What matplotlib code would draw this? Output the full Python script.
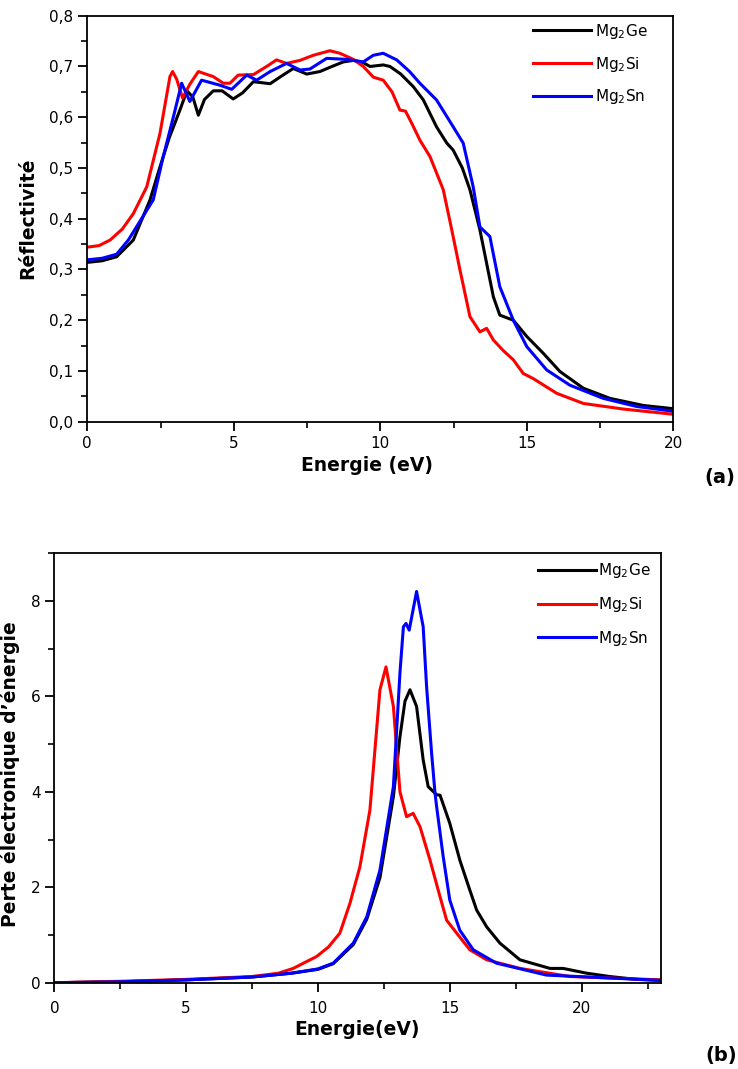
import matplotlib
matplotlib.use('Agg')
import matplotlib.pyplot as plt
from matplotlib.ticker import MultipleLocator, FuncFormatter

plt.rcParams['font.family'] = ['DejaVu Sans']
plt.rcParams['mathtext.fontset'] = 'dejavusans'

labels = ['Mg$_\\mathregular{2}$Ge', 'Mg$_\\mathregular{2}$Si', 'Mg$_\\mathregular{2}$Sn']
colors = ['#000000', '#ff0000', '#0000ff']

# (a) réflectivité R(E)
ge_r_x = [0, 0.5, 1.0, 1.57, 2.14, 2.48, 2.8, 3.16, 3.4, 3.6, 3.79, 4.0, 4.3, 4.6, 4.98, 5.3,
          5.67, 6.24, 6.6, 7.03, 7.49, 7.94, 8.35, 8.74, 9.08, 9.4, 9.65, 10.1, 10.33, 10.7,
          11.13, 11.47, 11.92, 12.27, 12.49, 12.8, 13.06, 13.4, 13.63, 13.86, 14.08, 14.54,
          15.0, 15.56, 16.13, 16.93, 17.84, 18.98, 19.95, 20]
ge_r_y = [0.314, 0.317, 0.325, 0.358, 0.437, 0.502, 0.56, 0.614, 0.652, 0.64, 0.604, 0.635,
          0.652, 0.652, 0.636, 0.648, 0.670, 0.666, 0.680, 0.696, 0.685, 0.690, 0.700, 0.709,
          0.712, 0.708, 0.700, 0.703, 0.700, 0.685, 0.660, 0.634, 0.581, 0.549, 0.535, 0.500,
          0.457, 0.378, 0.312, 0.246, 0.210, 0.200, 0.168, 0.135, 0.099, 0.066, 0.046, 0.032,
          0.026, 0.025]

si_r_x = [0, 0.4, 0.78, 1.2, 1.57, 2.03, 2.48, 2.82, 2.91, 3.05, 3.25, 3.5, 3.79, 4.3, 4.64,
          4.87, 5.15, 5.67, 6.12, 6.46, 6.8, 7.26, 7.71, 8.28, 8.62, 9.08, 9.42, 9.76, 10.1,
          10.4, 10.67, 10.86, 11.1, 11.35, 11.7, 12.15, 12.44, 12.72, 13.06, 13.4, 13.63,
          13.86, 14.2, 14.54, 14.88, 15.22, 16.02, 16.93, 18.29, 19.95, 20]
si_r_y = [0.344, 0.347, 0.358, 0.380, 0.410, 0.463, 0.568, 0.680, 0.690, 0.675, 0.638, 0.665,
          0.690, 0.680, 0.667, 0.667, 0.683, 0.684, 0.700, 0.713, 0.706, 0.712, 0.722, 0.731,
          0.726, 0.714, 0.700, 0.679, 0.673, 0.650, 0.614, 0.612, 0.585, 0.555, 0.522, 0.457,
          0.378, 0.299, 0.207, 0.177, 0.184, 0.161, 0.140, 0.122, 0.095, 0.085, 0.056, 0.036,
          0.025, 0.015, 0.015]

sn_r_x = [0, 0.5, 1.0, 1.4, 2.25, 2.59, 2.94, 3.22, 3.5, 3.9, 4.53, 4.93, 5.44, 5.78, 6.24,
          6.8, 7.26, 7.6, 8.17, 8.85, 9.42, 9.76, 10.1, 10.56, 11.0, 11.35, 11.92, 12.49,
          12.83, 13.17, 13.4, 13.63, 13.74, 14.08, 14.54, 15.0, 15.68, 16.47, 17.61, 18.75,
          19.95, 20]
sn_r_y = [0.319, 0.322, 0.330, 0.358, 0.437, 0.522, 0.601, 0.667, 0.631, 0.673, 0.663, 0.655,
          0.683, 0.673, 0.690, 0.706, 0.693, 0.695, 0.716, 0.714, 0.709, 0.722, 0.726, 0.713,
          0.690, 0.667, 0.634, 0.581, 0.549, 0.463, 0.384, 0.371, 0.365, 0.266, 0.200, 0.148,
          0.102, 0.072, 0.046, 0.030, 0.021, 0.020]

# (b) perte d'énergie L(E)
ge_l_x = [0, 2.5, 5, 7.5, 9, 10, 10.58, 11.34, 11.85, 12.35, 12.86, 13.11, 13.3, 13.49, 13.74,
          13.99, 14.18, 14.5, 14.63, 15.0, 15.38, 15.76, 16.02, 16.4, 16.9, 17.66, 18.8, 19.3,
          20.19, 21.07, 22.08, 23]
ge_l_y = [0, 0.02, 0.06, 0.12, 0.20, 0.28, 0.40, 0.80, 1.33, 2.20, 3.90, 5.16, 5.90, 6.14, 5.79,
          4.67, 4.11, 3.94, 3.93, 3.34, 2.57, 1.94, 1.52, 1.17, 0.83, 0.48, 0.30, 0.30, 0.20,
          0.13, 0.07, 0.05]

si_l_x = [0, 2.5, 5, 7.5, 8.5, 9.06, 9.95, 10.4, 10.83, 11.21, 11.59, 11.97, 12.35, 12.58,
          12.86, 13.11, 13.36, 13.61, 13.87, 14.25, 14.63, 14.88, 15.26, 15.76, 16.4, 17.66,
          19.56, 23]
si_l_y = [0, 0.03, 0.07, 0.13, 0.20, 0.30, 0.55, 0.75, 1.04, 1.66, 2.43, 3.62, 6.14, 6.62,
          5.79, 4.00, 3.48, 3.55, 3.27, 2.57, 1.80, 1.31, 1.04, 0.69, 0.48, 0.30, 0.13, 0.06]

sn_l_x = [0, 2.5, 5, 7.5, 9, 10, 10.58, 11.34, 11.85, 12.35, 12.86, 13.11, 13.24, 13.34, 13.46,
          13.74, 13.99, 14.12, 14.31, 14.44, 14.5, 14.75, 15.0, 15.38, 15.89, 16.77, 18.67, 23]
sn_l_y = [0, 0.02, 0.06, 0.12, 0.20, 0.29, 0.41, 0.83, 1.38, 2.36, 4.11, 6.50, 7.46, 7.53, 7.39,
          8.20, 7.46, 6.20, 4.81, 3.97, 3.69, 2.64, 1.73, 1.10, 0.69, 0.41, 0.16, 0.05]


def style_axes(ax):
    for s in ax.spines.values():
        s.set_linewidth(1.3)
    ax.tick_params(which='major', direction='out', length=6.5, width=1.3, labelsize=11,
                   top=False, right=False)
    ax.tick_params(which='minor', direction='out', length=4, width=1.2, top=False, right=False)


fig = plt.figure(figsize=(7.38, 10.69), dpi=100)

ax1 = fig.add_axes([0.1183, 0.6055, 0.794, 0.3798])
for x, y, c, l in zip([ge_r_x, si_r_x, sn_r_x], [ge_r_y, si_r_y, sn_r_y], colors, labels):
    ax1.plot(x, y, color=c, lw=2.2, label=l)
ax1.set_xlim(0, 20)
ax1.set_ylim(0, 0.8)
ax1.xaxis.set_major_locator(MultipleLocator(5))
ax1.xaxis.set_minor_locator(MultipleLocator(2.5))
ax1.yaxis.set_major_locator(MultipleLocator(0.1))
ax1.yaxis.set_minor_locator(MultipleLocator(0.05))
ax1.yaxis.set_major_formatter(FuncFormatter(lambda v, p: f'{v:.1f}'.replace('.', ',')))
style_axes(ax1)
ax1.set_xlabel('Energie (eV)', fontsize=13.5, fontweight='bold')
ax1.set_ylabel('Réflectivité', fontsize=13.5, fontweight='bold')
ax1.xaxis.set_label_coords(0.477, -0.085)
ax1.yaxis.set_label_coords(-0.086, 0.5)
ax1.legend(loc='upper left', bbox_to_anchor=(0.76, 0.985), frameon=False, fontsize=11,
           handlelength=3.8, handletextpad=0.25, labelspacing=0.9, borderpad=0, borderaxespad=0)

ax2 = fig.add_axes([0.0736, 0.0807, 0.8217, 0.4017])
for x, y, c, l in zip([ge_l_x, si_l_x, sn_l_x], [ge_l_y, si_l_y, sn_l_y], colors, labels):
    ax2.plot(x, y, color=c, lw=2.2, label=l)
ax2.set_xlim(0, 23)
ax2.set_ylim(0, 9)
ax2.xaxis.set_major_locator(MultipleLocator(5))
ax2.xaxis.set_minor_locator(MultipleLocator(2.5))
ax2.yaxis.set_major_locator(MultipleLocator(2))
ax2.yaxis.set_minor_locator(MultipleLocator(1))
style_axes(ax2)
ax2.tick_params(axis='x', which='major', pad=7)
ax2.set_xlabel('Energie(eV)', fontsize=13.5, fontweight='bold')
ax2.set_ylabel('Perte électronique d’énergie', fontsize=13.5, fontweight='bold')
ax2.xaxis.set_label_coords(0.499, -0.087)
ax2.yaxis.set_label_coords(-0.056, 0.485)
ax2.legend(loc='upper left', bbox_to_anchor=(0.797, 0.981), frameon=False, fontsize=11,
           handlelength=3.8, handletextpad=0.15, labelspacing=0.95, borderpad=0, borderaxespad=0)

fig.text(0.955, 0.553, '(a)', fontsize=14, fontweight='bold', va='center', ha='left')
fig.text(0.998, 0.013, '(b)', fontsize=14, fontweight='bold', va='center', ha='right')

fig.savefig('out.png', dpi=100)
